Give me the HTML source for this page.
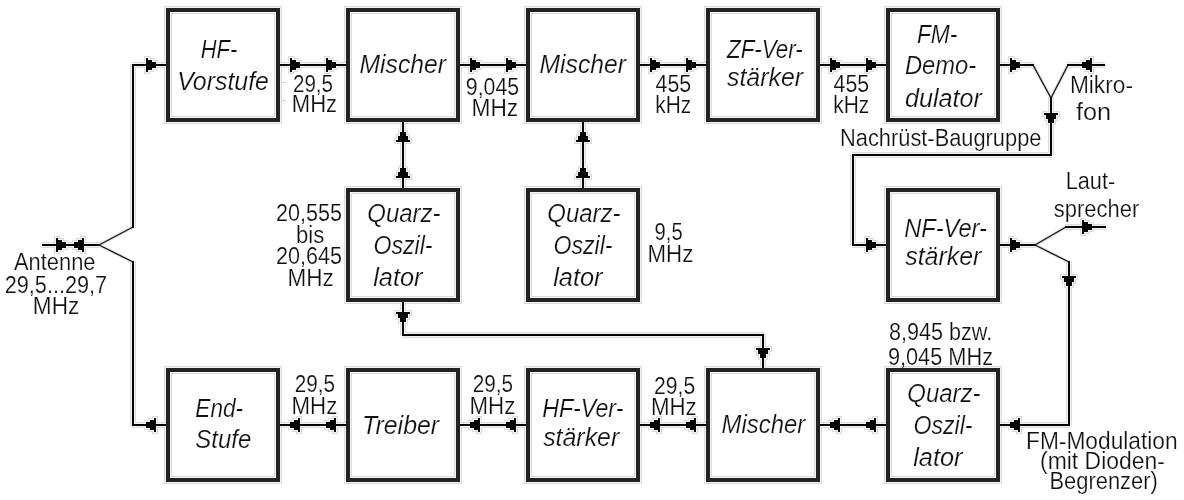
<!DOCTYPE html>
<html><head><meta charset="utf-8"><style>
html,body{margin:0;padding:0;background:#fff;}
body{width:1184px;height:500px;overflow:hidden;position:relative;}
text{font-family:"Liberation Sans",sans-serif;fill:#111;white-space:pre;stroke:#fff;stroke-width:0.2px;}
svg{filter:grayscale(100%);}
</style></head><body>
<svg width="1184" height="500" viewBox="0 0 1184 500" style="position:absolute;left:0;top:0" shape-rendering="crispEdges">
<rect x="164" y="6" width="118" height="118" fill="#dcdcdc"/>
<rect x="165" y="7" width="116" height="116" fill="#f3f3f3"/>
<rect x="166" y="8" width="114" height="114" fill="#222"/>
<rect x="170" y="12" width="106" height="106" fill="#f3f3f3"/>
<rect x="171" y="13" width="104" height="104" fill="#dcdcdc"/>
<rect x="172" y="14" width="102" height="102" fill="#fff"/>
<rect x="344" y="6" width="118" height="118" fill="#dcdcdc"/>
<rect x="345" y="7" width="116" height="116" fill="#f3f3f3"/>
<rect x="346" y="8" width="114" height="114" fill="#222"/>
<rect x="350" y="12" width="106" height="106" fill="#f3f3f3"/>
<rect x="351" y="13" width="104" height="104" fill="#dcdcdc"/>
<rect x="352" y="14" width="102" height="102" fill="#fff"/>
<rect x="524" y="6" width="118" height="118" fill="#dcdcdc"/>
<rect x="525" y="7" width="116" height="116" fill="#f3f3f3"/>
<rect x="526" y="8" width="114" height="114" fill="#222"/>
<rect x="530" y="12" width="106" height="106" fill="#f3f3f3"/>
<rect x="531" y="13" width="104" height="104" fill="#dcdcdc"/>
<rect x="532" y="14" width="102" height="102" fill="#fff"/>
<rect x="704" y="6" width="118" height="118" fill="#dcdcdc"/>
<rect x="705" y="7" width="116" height="116" fill="#f3f3f3"/>
<rect x="706" y="8" width="114" height="114" fill="#222"/>
<rect x="710" y="12" width="106" height="106" fill="#f3f3f3"/>
<rect x="711" y="13" width="104" height="104" fill="#dcdcdc"/>
<rect x="712" y="14" width="102" height="102" fill="#fff"/>
<rect x="884" y="6" width="118" height="118" fill="#dcdcdc"/>
<rect x="885" y="7" width="116" height="116" fill="#f3f3f3"/>
<rect x="886" y="8" width="114" height="114" fill="#222"/>
<rect x="890" y="12" width="106" height="106" fill="#f3f3f3"/>
<rect x="891" y="13" width="104" height="104" fill="#dcdcdc"/>
<rect x="892" y="14" width="102" height="102" fill="#fff"/>
<rect x="344" y="186" width="118" height="118" fill="#dcdcdc"/>
<rect x="345" y="187" width="116" height="116" fill="#f3f3f3"/>
<rect x="346" y="188" width="114" height="114" fill="#222"/>
<rect x="350" y="192" width="106" height="106" fill="#f3f3f3"/>
<rect x="351" y="193" width="104" height="104" fill="#dcdcdc"/>
<rect x="352" y="194" width="102" height="102" fill="#fff"/>
<rect x="524" y="186" width="118" height="118" fill="#dcdcdc"/>
<rect x="525" y="187" width="116" height="116" fill="#f3f3f3"/>
<rect x="526" y="188" width="114" height="114" fill="#222"/>
<rect x="530" y="192" width="106" height="106" fill="#f3f3f3"/>
<rect x="531" y="193" width="104" height="104" fill="#dcdcdc"/>
<rect x="532" y="194" width="102" height="102" fill="#fff"/>
<rect x="884" y="186" width="118" height="118" fill="#dcdcdc"/>
<rect x="885" y="187" width="116" height="116" fill="#f3f3f3"/>
<rect x="886" y="188" width="114" height="114" fill="#222"/>
<rect x="890" y="192" width="106" height="106" fill="#f3f3f3"/>
<rect x="891" y="193" width="104" height="104" fill="#dcdcdc"/>
<rect x="892" y="194" width="102" height="102" fill="#fff"/>
<rect x="164" y="366" width="118" height="118" fill="#dcdcdc"/>
<rect x="165" y="367" width="116" height="116" fill="#f3f3f3"/>
<rect x="166" y="368" width="114" height="114" fill="#222"/>
<rect x="170" y="372" width="106" height="106" fill="#f3f3f3"/>
<rect x="171" y="373" width="104" height="104" fill="#dcdcdc"/>
<rect x="172" y="374" width="102" height="102" fill="#fff"/>
<rect x="344" y="366" width="118" height="118" fill="#dcdcdc"/>
<rect x="345" y="367" width="116" height="116" fill="#f3f3f3"/>
<rect x="346" y="368" width="114" height="114" fill="#222"/>
<rect x="350" y="372" width="106" height="106" fill="#f3f3f3"/>
<rect x="351" y="373" width="104" height="104" fill="#dcdcdc"/>
<rect x="352" y="374" width="102" height="102" fill="#fff"/>
<rect x="524" y="366" width="118" height="118" fill="#dcdcdc"/>
<rect x="525" y="367" width="116" height="116" fill="#f3f3f3"/>
<rect x="526" y="368" width="114" height="114" fill="#222"/>
<rect x="530" y="372" width="106" height="106" fill="#f3f3f3"/>
<rect x="531" y="373" width="104" height="104" fill="#dcdcdc"/>
<rect x="532" y="374" width="102" height="102" fill="#fff"/>
<rect x="704" y="366" width="118" height="118" fill="#dcdcdc"/>
<rect x="705" y="367" width="116" height="116" fill="#f3f3f3"/>
<rect x="706" y="368" width="114" height="114" fill="#222"/>
<rect x="710" y="372" width="106" height="106" fill="#f3f3f3"/>
<rect x="711" y="373" width="104" height="104" fill="#dcdcdc"/>
<rect x="712" y="374" width="102" height="102" fill="#fff"/>
<rect x="884" y="366" width="118" height="118" fill="#dcdcdc"/>
<rect x="885" y="367" width="116" height="116" fill="#f3f3f3"/>
<rect x="886" y="368" width="114" height="114" fill="#222"/>
<rect x="890" y="372" width="106" height="106" fill="#f3f3f3"/>
<rect x="891" y="373" width="104" height="104" fill="#dcdcdc"/>
<rect x="892" y="374" width="102" height="102" fill="#fff"/>
<path fill="#dcdcdc" d="M42 242h57v6h-57zM54 236h6v18h-6zM56 238h8v14h-8zM60 240h8v10h-8zM80 236h6v18h-6zM76 238h8v14h-8zM72 240h8v10h-8zM130 64h6v164h-6zM130 261h6v165h-6zM132 62h34v6h-34zM132 422h34v6h-34zM144 56h6v18h-6zM146 58h8v14h-8zM150 60h8v10h-8zM152 416h6v18h-6zM148 418h8v14h-8zM144 420h8v10h-8zM280 62h66v6h-66zM288 56h6v18h-6zM290 58h8v14h-8zM294 60h8v10h-8zM324 56h6v18h-6zM326 58h8v14h-8zM330 60h8v10h-8zM280 422h66v6h-66zM296 416h6v18h-6zM292 418h8v14h-8zM288 420h8v10h-8zM332 416h6v18h-6zM328 418h8v14h-8zM324 420h8v10h-8zM460 62h66v6h-66zM468 56h6v18h-6zM470 58h8v14h-8zM474 60h8v10h-8zM504 56h6v18h-6zM506 58h8v14h-8zM510 60h8v10h-8zM460 422h66v6h-66zM476 416h6v18h-6zM472 418h8v14h-8zM468 420h8v10h-8zM512 416h6v18h-6zM508 418h8v14h-8zM504 420h8v10h-8zM640 62h66v6h-66zM648 56h6v18h-6zM650 58h8v14h-8zM654 60h8v10h-8zM684 56h6v18h-6zM686 58h8v14h-8zM690 60h8v10h-8zM640 422h66v6h-66zM656 416h6v18h-6zM652 418h8v14h-8zM648 420h8v10h-8zM692 416h6v18h-6zM688 418h8v14h-8zM684 420h8v10h-8zM820 62h66v6h-66zM828 56h6v18h-6zM830 58h8v14h-8zM834 60h8v10h-8zM864 56h6v18h-6zM866 58h8v14h-8zM870 60h8v10h-8zM820 422h66v6h-66zM836 416h6v18h-6zM832 418h8v14h-8zM828 420h8v10h-8zM872 416h6v18h-6zM868 418h8v14h-8zM864 420h8v10h-8zM1000 62h34v6h-34zM1008 56h6v18h-6zM1010 58h8v14h-8zM1014 60h8v10h-8zM1067 62h38v6h-38zM1088 56h6v18h-6zM1084 58h8v14h-8zM1080 60h8v10h-8zM1048 97h6v59h-6zM1042 111h18v6h-18zM1044 113h14v8h-14zM1046 117h10v8h-10zM852 152h200v6h-200zM850 154h6v92h-6zM852 242h34v6h-34zM864 236h6v18h-6zM866 238h8v14h-8zM870 240h8v10h-8zM400 122h6v66h-6zM394 138h18v6h-18zM396 134h14v8h-14zM398 130h10v8h-10zM394 174h18v6h-18zM396 170h14v8h-14zM398 166h10v8h-10zM580 122h6v66h-6zM574 138h18v6h-18zM576 134h14v8h-14zM578 130h10v8h-10zM574 174h18v6h-18zM576 170h14v8h-14zM578 166h10v8h-10zM400 302h6v34h-6zM394 310h18v6h-18zM396 312h14v8h-14zM398 316h10v8h-10zM402 332h362v6h-362zM760 334h6v34h-6zM754 346h18v6h-18zM756 348h14v8h-14zM758 352h10v8h-10zM1000 242h36v6h-36zM1008 236h6v18h-6zM1010 238h8v14h-8zM1014 240h8v10h-8zM1065 224h41v6h-41zM1080 218h6v18h-6zM1082 220h8v14h-8zM1086 222h8v10h-8zM1066 261h6v165h-6zM1060 274h18v6h-18zM1062 276h14v8h-14zM1064 280h10v8h-10zM1000 422h70v6h-70zM1016 416h6v18h-6zM1012 418h8v14h-8zM1008 420h8v10h-8z"/>
<path fill="#f3f3f3" d="M42 243h57v4h-57zM55 237h4v16h-4zM57 239h6v12h-6zM61 241h6v8h-6zM81 237h4v16h-4zM77 239h6v12h-6zM73 241h6v8h-6zM131 64h4v164h-4zM131 261h4v165h-4zM132 63h34v4h-34zM132 423h34v4h-34zM145 57h4v16h-4zM147 59h6v12h-6zM151 61h6v8h-6zM153 417h4v16h-4zM149 419h6v12h-6zM145 421h6v8h-6zM280 63h66v4h-66zM289 57h4v16h-4zM291 59h6v12h-6zM295 61h6v8h-6zM325 57h4v16h-4zM327 59h6v12h-6zM331 61h6v8h-6zM280 423h66v4h-66zM297 417h4v16h-4zM293 419h6v12h-6zM289 421h6v8h-6zM333 417h4v16h-4zM329 419h6v12h-6zM325 421h6v8h-6zM460 63h66v4h-66zM469 57h4v16h-4zM471 59h6v12h-6zM475 61h6v8h-6zM505 57h4v16h-4zM507 59h6v12h-6zM511 61h6v8h-6zM460 423h66v4h-66zM477 417h4v16h-4zM473 419h6v12h-6zM469 421h6v8h-6zM513 417h4v16h-4zM509 419h6v12h-6zM505 421h6v8h-6zM640 63h66v4h-66zM649 57h4v16h-4zM651 59h6v12h-6zM655 61h6v8h-6zM685 57h4v16h-4zM687 59h6v12h-6zM691 61h6v8h-6zM640 423h66v4h-66zM657 417h4v16h-4zM653 419h6v12h-6zM649 421h6v8h-6zM693 417h4v16h-4zM689 419h6v12h-6zM685 421h6v8h-6zM820 63h66v4h-66zM829 57h4v16h-4zM831 59h6v12h-6zM835 61h6v8h-6zM865 57h4v16h-4zM867 59h6v12h-6zM871 61h6v8h-6zM820 423h66v4h-66zM837 417h4v16h-4zM833 419h6v12h-6zM829 421h6v8h-6zM873 417h4v16h-4zM869 419h6v12h-6zM865 421h6v8h-6zM1000 63h34v4h-34zM1009 57h4v16h-4zM1011 59h6v12h-6zM1015 61h6v8h-6zM1067 63h38v4h-38zM1089 57h4v16h-4zM1085 59h6v12h-6zM1081 61h6v8h-6zM1049 97h4v59h-4zM1043 112h16v4h-16zM1045 114h12v6h-12zM1047 118h8v6h-8zM852 153h200v4h-200zM851 154h4v92h-4zM852 243h34v4h-34zM865 237h4v16h-4zM867 239h6v12h-6zM871 241h6v8h-6zM401 122h4v66h-4zM395 139h16v4h-16zM397 135h12v6h-12zM399 131h8v6h-8zM395 175h16v4h-16zM397 171h12v6h-12zM399 167h8v6h-8zM581 122h4v66h-4zM575 139h16v4h-16zM577 135h12v6h-12zM579 131h8v6h-8zM575 175h16v4h-16zM577 171h12v6h-12zM579 167h8v6h-8zM401 302h4v34h-4zM395 311h16v4h-16zM397 313h12v6h-12zM399 317h8v6h-8zM402 333h362v4h-362zM761 334h4v34h-4zM755 347h16v4h-16zM757 349h12v6h-12zM759 353h8v6h-8zM1000 243h36v4h-36zM1009 237h4v16h-4zM1011 239h6v12h-6zM1015 241h6v8h-6zM1065 225h41v4h-41zM1081 219h4v16h-4zM1083 221h6v12h-6zM1087 223h6v8h-6zM1067 261h4v165h-4zM1061 275h16v4h-16zM1063 277h12v6h-12zM1065 281h8v6h-8zM1000 423h70v4h-70zM1017 417h4v16h-4zM1013 419h6v12h-6zM1009 421h6v8h-6z"/>
<line x1="99" y1="245" x2="133" y2="227" stroke="#e2e2e2" stroke-width="3.4" shape-rendering="auto"/>
<line x1="99" y1="245" x2="133" y2="262" stroke="#e2e2e2" stroke-width="3.4" shape-rendering="auto"/>
<line x1="1033" y1="65" x2="1051" y2="98" stroke="#e2e2e2" stroke-width="3.4" shape-rendering="auto"/>
<line x1="1068" y1="65" x2="1051" y2="98" stroke="#e2e2e2" stroke-width="3.4" shape-rendering="auto"/>
<line x1="1035" y1="245" x2="1066" y2="227" stroke="#e2e2e2" stroke-width="3.4" shape-rendering="auto"/>
<line x1="1035" y1="245" x2="1069" y2="262" stroke="#e2e2e2" stroke-width="3.4" shape-rendering="auto"/>
<line x1="99" y1="245" x2="133" y2="227" stroke="#181818" stroke-width="1.35" shape-rendering="auto"/>
<line x1="99" y1="245" x2="133" y2="262" stroke="#181818" stroke-width="1.35" shape-rendering="auto"/>
<line x1="1033" y1="65" x2="1051" y2="98" stroke="#181818" stroke-width="1.35" shape-rendering="auto"/>
<line x1="1068" y1="65" x2="1051" y2="98" stroke="#181818" stroke-width="1.35" shape-rendering="auto"/>
<line x1="1035" y1="245" x2="1066" y2="227" stroke="#181818" stroke-width="1.35" shape-rendering="auto"/>
<line x1="1035" y1="245" x2="1069" y2="262" stroke="#181818" stroke-width="1.35" shape-rendering="auto"/>
<rect x="281" y="82" width="5" height="1" fill="#d4d4d4"/><rect x="281" y="100" width="5" height="1" fill="#d4d4d4"/>
<path fill="#050505" d="M42 244h57v2h-57zM56 238h2v14h-2zM58 240h4v10h-4zM62 242h4v6h-4zM82 238h2v14h-2zM78 240h4v10h-4zM74 242h4v6h-4zM132 64h2v164h-2zM132 261h2v165h-2zM132 64h34v2h-34zM132 424h34v2h-34zM146 58h2v14h-2zM148 60h4v10h-4zM152 62h4v6h-4zM154 418h2v14h-2zM150 420h4v10h-4zM146 422h4v6h-4zM280 64h66v2h-66zM290 58h2v14h-2zM292 60h4v10h-4zM296 62h4v6h-4zM326 58h2v14h-2zM328 60h4v10h-4zM332 62h4v6h-4zM280 424h66v2h-66zM298 418h2v14h-2zM294 420h4v10h-4zM290 422h4v6h-4zM334 418h2v14h-2zM330 420h4v10h-4zM326 422h4v6h-4zM460 64h66v2h-66zM470 58h2v14h-2zM472 60h4v10h-4zM476 62h4v6h-4zM506 58h2v14h-2zM508 60h4v10h-4zM512 62h4v6h-4zM460 424h66v2h-66zM478 418h2v14h-2zM474 420h4v10h-4zM470 422h4v6h-4zM514 418h2v14h-2zM510 420h4v10h-4zM506 422h4v6h-4zM640 64h66v2h-66zM650 58h2v14h-2zM652 60h4v10h-4zM656 62h4v6h-4zM686 58h2v14h-2zM688 60h4v10h-4zM692 62h4v6h-4zM640 424h66v2h-66zM658 418h2v14h-2zM654 420h4v10h-4zM650 422h4v6h-4zM694 418h2v14h-2zM690 420h4v10h-4zM686 422h4v6h-4zM820 64h66v2h-66zM830 58h2v14h-2zM832 60h4v10h-4zM836 62h4v6h-4zM866 58h2v14h-2zM868 60h4v10h-4zM872 62h4v6h-4zM820 424h66v2h-66zM838 418h2v14h-2zM834 420h4v10h-4zM830 422h4v6h-4zM874 418h2v14h-2zM870 420h4v10h-4zM866 422h4v6h-4zM1000 64h34v2h-34zM1010 58h2v14h-2zM1012 60h4v10h-4zM1016 62h4v6h-4zM1067 64h38v2h-38zM1090 58h2v14h-2zM1086 60h4v10h-4zM1082 62h4v6h-4zM1050 97h2v59h-2zM1044 113h14v2h-14zM1046 115h10v4h-10zM1048 119h6v4h-6zM852 154h200v2h-200zM852 154h2v92h-2zM852 244h34v2h-34zM866 238h2v14h-2zM868 240h4v10h-4zM872 242h4v6h-4zM402 122h2v66h-2zM396 140h14v2h-14zM398 136h10v4h-10zM400 132h6v4h-6zM396 176h14v2h-14zM398 172h10v4h-10zM400 168h6v4h-6zM582 122h2v66h-2zM576 140h14v2h-14zM578 136h10v4h-10zM580 132h6v4h-6zM576 176h14v2h-14zM578 172h10v4h-10zM580 168h6v4h-6zM402 302h2v34h-2zM396 312h14v2h-14zM398 314h10v4h-10zM400 318h6v4h-6zM402 334h362v2h-362zM762 334h2v34h-2zM756 348h14v2h-14zM758 350h10v4h-10zM760 354h6v4h-6zM1000 244h36v2h-36zM1010 238h2v14h-2zM1012 240h4v10h-4zM1016 242h4v6h-4zM1065 226h41v2h-41zM1082 220h2v14h-2zM1084 222h4v10h-4zM1088 224h4v6h-4zM1068 261h2v165h-2zM1062 276h14v2h-14zM1064 278h10v4h-10zM1066 282h6v4h-6zM1000 424h70v2h-70zM1018 418h2v14h-2zM1014 420h4v10h-4zM1010 422h4v6h-4z"/>
<text x="200.77" y="58.00" font-size="25.00" textLength="36.46" lengthAdjust="spacingAndGlyphs" style="font-style:italic;" shape-rendering="auto">HF-</text>
<text x="177.17" y="90.28" font-size="25.00" textLength="91.75" lengthAdjust="spacingAndGlyphs" style="font-style:italic;" shape-rendering="auto">Vorstufe</text>
<text x="359.50" y="72.67" font-size="25.00" textLength="86.50" lengthAdjust="spacingAndGlyphs" style="font-style:italic;" shape-rendering="auto">Mischer</text>
<text x="539.50" y="72.67" font-size="25.00" textLength="86.50" lengthAdjust="spacingAndGlyphs" style="font-style:italic;" shape-rendering="auto">Mischer</text>
<text x="727.00" y="57.81" font-size="25.00" textLength="75.80" lengthAdjust="spacingAndGlyphs" style="font-style:italic;" shape-rendering="auto">ZF-Ver-</text>
<text x="727.00" y="86.10" font-size="25.00" textLength="76.01" lengthAdjust="spacingAndGlyphs" style="font-style:italic;" shape-rendering="auto">stärker</text>
<text x="916.96" y="42.55" font-size="25.00" textLength="40.48" lengthAdjust="spacingAndGlyphs" style="font-style:italic;" shape-rendering="auto">FM-</text>
<text x="904.97" y="74.10" font-size="25.00" textLength="71.24" lengthAdjust="spacingAndGlyphs" style="font-style:italic;" shape-rendering="auto">Demo-</text>
<text x="905.00" y="107.25" font-size="25.00" textLength="77.00" lengthAdjust="spacingAndGlyphs" style="font-style:italic;" shape-rendering="auto">dulator</text>
<text x="292.94" y="92.25" font-size="23.00" textLength="40.11" lengthAdjust="spacingAndGlyphs" style="" shape-rendering="auto">29,5</text>
<text x="291.85" y="112.25" font-size="23.00" textLength="45.23" lengthAdjust="spacingAndGlyphs" style="" shape-rendering="auto">MHz</text>
<text x="465.87" y="94.70" font-size="23.00" textLength="53.25" lengthAdjust="spacingAndGlyphs" style="" shape-rendering="auto">9,045</text>
<text x="471.47" y="116.42" font-size="23.00" textLength="46.69" lengthAdjust="spacingAndGlyphs" style="" shape-rendering="auto">MHz</text>
<text x="655.57" y="92.25" font-size="23.00" textLength="35.65" lengthAdjust="spacingAndGlyphs" style="" shape-rendering="auto">455</text>
<text x="655.31" y="112.60" font-size="23.00" textLength="35.92" lengthAdjust="spacingAndGlyphs" style="" shape-rendering="auto">kHz</text>
<text x="833.57" y="92.25" font-size="23.00" textLength="35.65" lengthAdjust="spacingAndGlyphs" style="" shape-rendering="auto">455</text>
<text x="833.31" y="113.00" font-size="23.00" textLength="35.92" lengthAdjust="spacingAndGlyphs" style="" shape-rendering="auto">kHz</text>
<text x="1069.89" y="93.25" font-size="23.00" textLength="63.16" lengthAdjust="spacingAndGlyphs" style="" shape-rendering="auto">Mikro-</text>
<text x="1076.00" y="120.25" font-size="23.00" textLength="35.13" lengthAdjust="spacingAndGlyphs" style="" shape-rendering="auto">fon</text>
<text x="840.07" y="145.55" font-size="23.00" textLength="201.34" lengthAdjust="spacingAndGlyphs" style="" shape-rendering="auto">Nachrüst-Baugruppe</text>
<text x="275.97" y="220.68" font-size="23.00" textLength="66.06" lengthAdjust="spacingAndGlyphs" style="" shape-rendering="auto">20,555</text>
<text x="295.93" y="242.70" font-size="23.00" textLength="28.31" lengthAdjust="spacingAndGlyphs" style="" shape-rendering="auto">bis</text>
<text x="275.97" y="264.35" font-size="23.00" textLength="66.06" lengthAdjust="spacingAndGlyphs" style="" shape-rendering="auto">20,645</text>
<text x="287.46" y="286.35" font-size="23.00" textLength="46.23" lengthAdjust="spacingAndGlyphs" style="" shape-rendering="auto">MHz</text>
<text x="367.36" y="222.25" font-size="25.00" textLength="73.17" lengthAdjust="spacingAndGlyphs" style="font-style:italic;" shape-rendering="auto">Quarz-</text>
<text x="373.45" y="253.77" font-size="25.00" textLength="59.07" lengthAdjust="spacingAndGlyphs" style="font-style:italic;" shape-rendering="auto">Oszil-</text>
<text x="373.20" y="285.52" font-size="25.00" textLength="49.31" lengthAdjust="spacingAndGlyphs" style="font-style:italic;" shape-rendering="auto">lator</text>
<text x="547.36" y="222.25" font-size="25.00" textLength="73.17" lengthAdjust="spacingAndGlyphs" style="font-style:italic;" shape-rendering="auto">Quarz-</text>
<text x="553.45" y="253.77" font-size="25.00" textLength="59.07" lengthAdjust="spacingAndGlyphs" style="font-style:italic;" shape-rendering="auto">Oszil-</text>
<text x="553.20" y="285.52" font-size="25.00" textLength="49.31" lengthAdjust="spacingAndGlyphs" style="font-style:italic;" shape-rendering="auto">lator</text>
<text x="654.57" y="240.25" font-size="23.00" textLength="28.04" lengthAdjust="spacingAndGlyphs" style="" shape-rendering="auto">9,5</text>
<text x="647.49" y="262.35" font-size="23.00" textLength="45.81" lengthAdjust="spacingAndGlyphs" style="" shape-rendering="auto">MHz</text>
<text x="904.18" y="236.85" font-size="25.00" textLength="82.73" lengthAdjust="spacingAndGlyphs" style="font-style:italic;" shape-rendering="auto">NF-Ver-</text>
<text x="905.20" y="265.32" font-size="25.00" textLength="76.20" lengthAdjust="spacingAndGlyphs" style="font-style:italic;" shape-rendering="auto">stärker</text>
<text x="1065.71" y="188.55" font-size="23.00" textLength="49.52" lengthAdjust="spacingAndGlyphs" style="" shape-rendering="auto">Laut-</text>
<text x="1053.79" y="216.78" font-size="23.00" textLength="85.42" lengthAdjust="spacingAndGlyphs" style="" shape-rendering="auto">sprecher</text>
<text x="14.00" y="270.05" font-size="23.00" textLength="81.51" lengthAdjust="spacingAndGlyphs" style="" shape-rendering="auto">Antenne</text>
<text x="4.77" y="292.67" font-size="23.00" textLength="102.35" lengthAdjust="spacingAndGlyphs" style="" shape-rendering="auto">29,5...29,7</text>
<text x="32.86" y="314.23" font-size="23.00" textLength="46.45" lengthAdjust="spacingAndGlyphs" style="" shape-rendering="auto">MHz</text>
<text x="195.36" y="416.50" font-size="25.00" textLength="47.69" lengthAdjust="spacingAndGlyphs" style="font-style:italic;" shape-rendering="auto">End-</text>
<text x="195.37" y="448.30" font-size="25.00" textLength="55.84" lengthAdjust="spacingAndGlyphs" style="font-style:italic;" shape-rendering="auto">Stufe</text>
<text x="362.06" y="433.95" font-size="25.00" textLength="77.13" lengthAdjust="spacingAndGlyphs" style="font-style:italic;" shape-rendering="auto">Treiber</text>
<text x="294.72" y="392.25" font-size="23.00" textLength="40.33" lengthAdjust="spacingAndGlyphs" style="" shape-rendering="auto">29,5</text>
<text x="291.49" y="414.45" font-size="23.00" textLength="45.81" lengthAdjust="spacingAndGlyphs" style="" shape-rendering="auto">MHz</text>
<text x="472.72" y="392.25" font-size="23.00" textLength="40.33" lengthAdjust="spacingAndGlyphs" style="" shape-rendering="auto">29,5</text>
<text x="469.49" y="414.25" font-size="23.00" textLength="45.81" lengthAdjust="spacingAndGlyphs" style="" shape-rendering="auto">MHz</text>
<text x="542.18" y="417.45" font-size="25.00" textLength="81.23" lengthAdjust="spacingAndGlyphs" style="font-style:italic;" shape-rendering="auto">HF-Ver-</text>
<text x="543.20" y="446.15" font-size="25.00" textLength="76.01" lengthAdjust="spacingAndGlyphs" style="font-style:italic;" shape-rendering="auto">stärker</text>
<text x="654.11" y="394.25" font-size="23.00" textLength="41.11" lengthAdjust="spacingAndGlyphs" style="" shape-rendering="auto">29,5</text>
<text x="650.88" y="415.30" font-size="23.00" textLength="45.81" lengthAdjust="spacingAndGlyphs" style="" shape-rendering="auto">MHz</text>
<text x="721.60" y="432.60" font-size="25.00" textLength="83.60" lengthAdjust="spacingAndGlyphs" style="font-style:italic;" shape-rendering="auto">Mischer</text>
<text x="888.89" y="340.32" font-size="23.00" textLength="103.25" lengthAdjust="spacingAndGlyphs" style="" shape-rendering="auto">8,945 bzw.</text>
<text x="887.88" y="364.55" font-size="23.00" textLength="105.15" lengthAdjust="spacingAndGlyphs" style="" shape-rendering="auto">9,045 MHz</text>
<text x="907.36" y="402.25" font-size="25.00" textLength="73.17" lengthAdjust="spacingAndGlyphs" style="font-style:italic;" shape-rendering="auto">Quarz-</text>
<text x="913.45" y="433.77" font-size="25.00" textLength="59.07" lengthAdjust="spacingAndGlyphs" style="font-style:italic;" shape-rendering="auto">Oszil-</text>
<text x="913.20" y="465.52" font-size="25.00" textLength="49.31" lengthAdjust="spacingAndGlyphs" style="font-style:italic;" shape-rendering="auto">lator</text>
<text x="1026.05" y="448.65" font-size="23.00" textLength="151.57" lengthAdjust="spacingAndGlyphs" style="" shape-rendering="auto">FM-Modulation</text>
<text x="1040.07" y="468.93" font-size="23.00" textLength="124.75" lengthAdjust="spacingAndGlyphs" style="" shape-rendering="auto">(mit Dioden-</text>
<text x="1049.45" y="489.00" font-size="23.00" textLength="108.40" lengthAdjust="spacingAndGlyphs" style="" shape-rendering="auto">Begrenzer)</text>
</svg>
</body></html>
